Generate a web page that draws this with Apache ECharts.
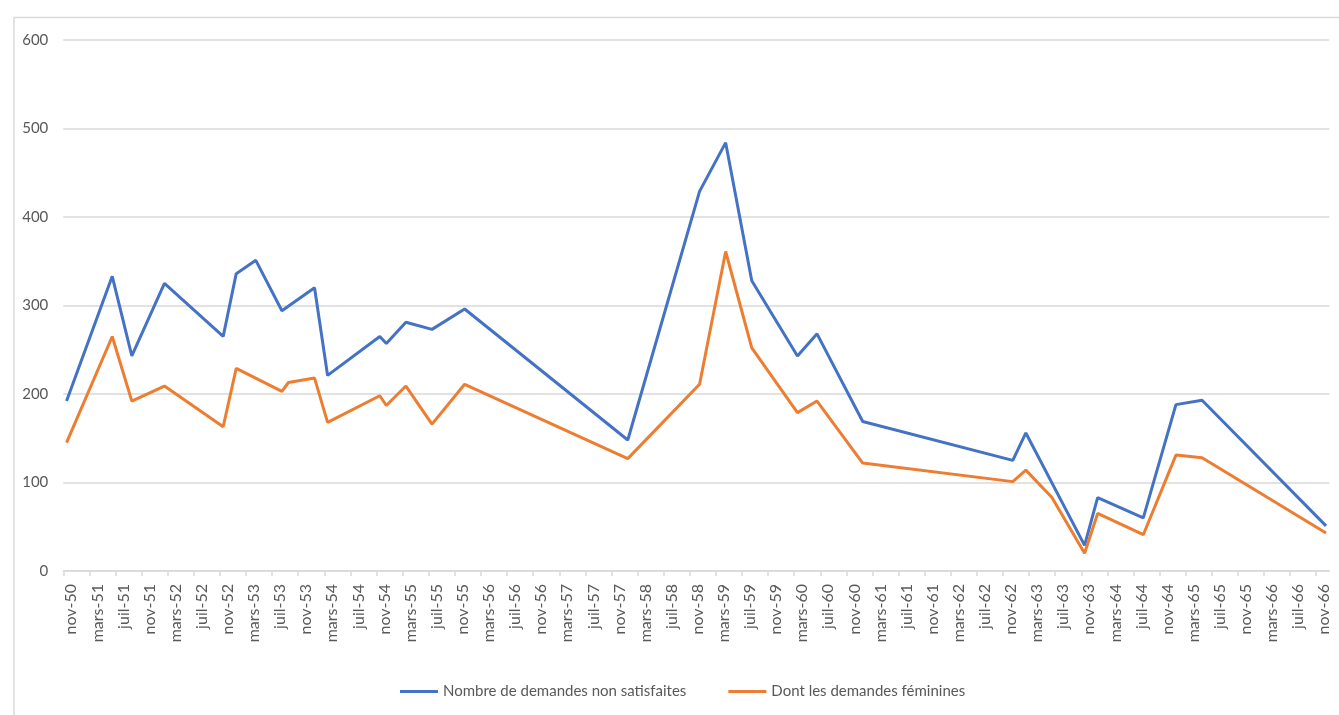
<!DOCTYPE html>
<html>
<head>
<meta charset="utf-8">
<script src="https://cdn.jsdelivr.net/npm/echarts@6/dist/echarts.min.js"></script>
<style>
html,body{margin:0;padding:0;background:#fff;}
#chart{width:1339px;height:715px;}
</style>
</head>
<body>
<div id="chart"></div>
<script>
// Observation dates (year-month)
const dates = ['1950-11','1951-06','1951-09','1952-02','1952-11','1953-01','1953-04','1953-08','1953-09',
  '1954-01','1954-03','1954-11','1954-12','1955-03','1955-07','1955-12','1958-01','1958-12','1959-04',
  '1959-08','1960-03','1960-06','1961-01','1962-12','1963-02','1963-06','1963-11','1964-01','1964-08',
  '1965-01','1965-05','1966-12'];
const demandesNonSatisfaites = [192,333,243,325,265,336,351,294,null,
  320,221,265,257,281,273,296,148,429,484,
  328,243,268,169,125,156,null,29,83,60,
  188,193,51];
const demandesFeminines = [145,265,192,209,163,229,null,203,213,
  218,168,198,187,209,166,211,127,211,361,
  252,179,192,122,101,114,83,20,65,41,
  131,128,43];
const seriesNames = ['Nombre de demandes non satisfaites','Dont les demandes féminines'];
const tickLabels = ['nov-50','mars-51','juil-51','nov-51','mars-52','juil-52','nov-52','mars-53','juil-53','nov-53',
  'mars-54','juil-54','nov-54','mars-55','juil-55','nov-55','mars-56','juil-56','nov-56','mars-57','juil-57','nov-57',
  'mars-58','juil-58','nov-58','mars-59','juil-59','nov-59','mars-60','juil-60','nov-60','mars-61','juil-61','nov-61',
  'mars-62','juil-62','nov-62','mars-63','juil-63','nov-63','mars-64','juil-64','nov-64','mars-65','juil-65','nov-65',
  'mars-66','juil-66','nov-66'];

// months since nov-50, plotted mid-month
function monthIndex(s){
  const [y,m] = s.split('-').map(Number);
  return (y-1950)*12 + (m-11) + 0.5;
}
function build(vals){
  const out = [];
  dates.forEach((d,i)=>{ if(vals[i]!==null) out.push([monthIndex(d), vals[i]]); });
  return out;
}
const tickValues = tickLabels.map((_,i)=>i*4);
const axisMax = 194;

const textColor = '#595959';
const gridColor = '#d9d9d9';
const chart = echarts.init(document.getElementById('chart'));
chart.setOption({
  animation:false,
  backgroundColor:'#fff',
  textStyle:{fontFamily:'Lato', color:textColor},
  graphic:[{
    type:'rect', left:11.5, top:15, z:-10,
    shape:{x:0,y:0,width:1400,height:760},
    style:{fill:'none', stroke:gridColor, lineWidth:1.5}
  }],
  grid:{left:63.3, right:9.7, top:40, bottom:144},
  legend:{
    left:395, top:679,
    itemWidth:38, itemHeight:3, itemGap:42,
    icon:'rect',
    textStyle:{fontFamily:'Lato', fontSize:15, color:textColor},
    data:seriesNames
  },
  xAxis:{
    type:'value', min:0, max:axisMax,
    splitLine:{show:false},
    axisLine:{show:true, lineStyle:{color:gridColor, width:1.5}},
    axisTick:{show:true, customValues:tickValues, length:5, lineStyle:{color:gridColor, width:1.5}},
    axisLabel:{
      customValues:tickValues,
      rotate:90, margin:13, fontSize:16, color:textColor, fontFamily:'Lato',
      verticalAlign:'top',
      formatter:function(v){ const k=Math.round(v/4); return tickLabels[k]||''; }
    }
  },
  yAxis:{
    type:'value', min:0, max:600, interval:100,
    axisLine:{show:false}, axisTick:{show:false},
    axisLabel:{margin:15, fontSize:15, color:textColor, fontFamily:'Lato'},
    splitLine:{lineStyle:{color:gridColor, width:1.5}}
  },
  series:[
    {name:seriesNames[0], type:'line', data:build(demandesNonSatisfaites), showSymbol:false, symbol:'none',
      lineStyle:{color:'#4472C4', width:3}, itemStyle:{color:'#4472C4'}},
    {name:seriesNames[1], type:'line', data:build(demandesFeminines), showSymbol:false, symbol:'none',
      lineStyle:{color:'#ED7D31', width:3}, itemStyle:{color:'#ED7D31'}}
  ]
});
</script>
</body>
</html>
